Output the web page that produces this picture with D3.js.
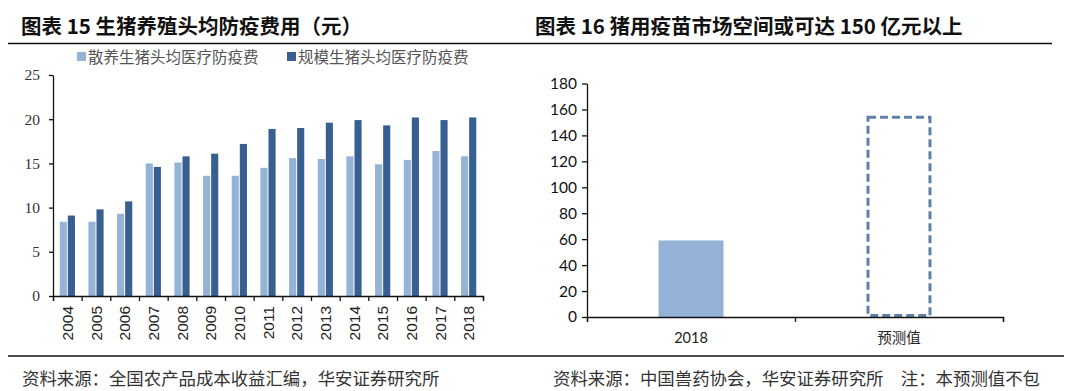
<!DOCTYPE html>
<html><head><meta charset="utf-8">
<script src="https://cdn.jsdelivr.net/npm/d3@7"></script>
<style>body{margin:0;background:#fff}svg{display:block}</style>
</head><body><svg id="c" width="1076" height="391"></svg>
<script>
const years = ["2004","2005","2006","2007","2008","2009","2010","2011","2012","2013","2014","2015","2016","2017","2018"];
const backyard = [8.4,8.4,9.3,15.0,15.1,13.6,13.6,14.5,15.6,15.5,15.8,14.9,15.4,16.4,15.8];
const scale = [9.1,9.8,10.7,14.6,15.8,16.1,17.2,18.9,19.0,19.6,19.9,19.3,20.2,19.9,20.2];
const seriesNames = ["散养生猪头均医疗防疫费","规模生猪头均医疗防疫费"];
const leftTicks = [0,5,10,15,20,25];
const rightCats = ["2018","预测值"];
const rightVals = [59,154];
const rightTicks = [0,20,40,60,80,100,120,140,160,180];

const svg = d3.select("#c");
const cjk = "'Noto Sans CJK SC', sans-serif";
const light = "#95b3d7", dark = "#375f8f";

// titles and rules
svg.append("text").attr("x",21).attr("y",34).attr("font-family",cjk).attr("font-weight","bold").attr("font-size",20.5).attr("fill","#111").text("图表 15 生猪养殖头均防疫费用（元）");
svg.append("text").attr("x",535).attr("y",34).attr("font-family",cjk).attr("font-weight","bold").attr("font-size",20.5).attr("fill","#111").text("图表 16 猪用疫苗市场空间或可达 150 亿元以上");
svg.append("line").attr("x1",8).attr("x2",1052).attr("y1",43.5).attr("y2",43.5).attr("stroke","#111").attr("stroke-width",1.3);
svg.append("line").attr("x1",8).attr("x2",1064).attr("y1",356).attr("y2",356).attr("stroke","#111").attr("stroke-width",1.3);
svg.append("text").attr("x",22).attr("y",385).attr("font-family",cjk).attr("font-size",17.4).attr("fill","#333").text("资料来源：全国农产品成本收益汇编，华安证券研究所");
svg.append("text").attr("x",553).attr("y",385).attr("font-family",cjk).attr("font-size",17.4).attr("fill","#333").text("资料来源：中国兽药协会，华安证券研究所　注：本预测值不包");

// left chart
const x0 = d3.scaleBand().domain(years).range([53,483]).paddingInner(0.47).paddingOuter(0.235);
const x1 = d3.scaleBand().domain([0,1]).range([0,x0.bandwidth()]).paddingInner(0.12);
const yL = d3.scaleLinear().domain([0,25]).range([296,75]);
const gL = svg.append("g");
years.forEach((yr,i)=>{
  [backyard[i],scale[i]].forEach((v,j)=>{
    gL.append("rect").attr("x",x0(yr)+x1(j)).attr("width",x1.bandwidth())
      .attr("y",yL(v)).attr("height",yL(0)-yL(v)).attr("fill",j?dark:light);
  });
});
const yAxL = gL.append("g").attr("transform","translate(53,0)").call(d3.axisLeft(yL).tickValues(leftTicks).tickSize(4).tickSizeOuter(0));
yAxL.selectAll("text").attr("font-family","'Liberation Serif', serif").attr("font-size",15.5).attr("fill","#333").attr("dx",-6);
yAxL.selectAll("line,path").attr("stroke","#111").attr("stroke-width",1.3);
const xB = d3.scaleLinear().domain([0,15]).range([53,483]);
const xAxL = gL.append("g").attr("transform","translate(0,296)").call(d3.axisBottom(xB).ticks(15).tickSize(5).tickFormat(""));
xAxL.selectAll("line,path").attr("stroke","#111").attr("stroke-width",1.3);
years.forEach(yr=>{
  gL.append("text").attr("transform",`translate(${x0(yr)+x0.bandwidth()/2+5.5},306) rotate(-90)`)
    .attr("text-anchor","end").attr("font-family","'Liberation Sans', sans-serif").attr("font-size",15.5).attr("fill","#222").text(yr);
});
// legend
[0,1].forEach(j=>{
  const lx = j? 287 : 77;
  svg.append("rect").attr("x",lx).attr("y",52).attr("width",9).attr("height",9).attr("fill",j?dark:light);
  svg.append("text").attr("x",lx+11).attr("y",62.5).attr("font-family",cjk).attr("font-size",15.5).attr("fill","#555").text(seriesNames[j]);
});

// right chart
const xR = d3.scaleBand().domain(rightCats).range([587,1003]).paddingInner(0.6875).paddingOuter(0.344);
const yR = d3.scaleLinear().domain([0,180]).range([317,83.5]);
const gR = svg.append("g");
gR.append("rect").attr("x",xR(rightCats[0])).attr("width",xR.bandwidth()).attr("y",yR(rightVals[0])).attr("height",yR(0)-yR(rightVals[0])).attr("fill",light);
gR.append("rect").attr("x",xR(rightCats[1])+1.5).attr("width",xR.bandwidth()-3).attr("y",yR(rightVals[1])).attr("height",yR(0)-yR(rightVals[1])-1.5)
  .attr("fill","none").attr("stroke","#5f80a8").attr("stroke-width",3).attr("stroke-dasharray","8,4");
const yAxR = gR.append("g").attr("transform","translate(587,0)").call(d3.axisLeft(yR).tickValues(rightTicks).tickSize(5).tickSizeOuter(0));
yAxR.selectAll("text").attr("font-family","Lato, sans-serif").attr("font-size",15.5).attr("fill","#111").attr("dx",-2);
yAxR.selectAll("line,path").attr("stroke","#111").attr("stroke-width",1.3);
const xRB = d3.scaleLinear().domain([0,2]).range([587,1003]);
const xAxR = gR.append("g").attr("transform","translate(0,317)").call(d3.axisBottom(xRB).ticks(2).tickSize(5).tickFormat(""));
xAxR.selectAll("line,path").attr("stroke","#111").attr("stroke-width",1.3);
rightCats.forEach(c=>{
  gR.append("text").attr("x",xR(c)+xR.bandwidth()/2).attr("y",343).attr("text-anchor","middle")
    .attr("font-family", c==="2018" ? "Lato, sans-serif" : cjk).attr("font-size",c==="2018"?14.5:14.5).attr("fill","#222").text(c);
});
</script></body></html>
